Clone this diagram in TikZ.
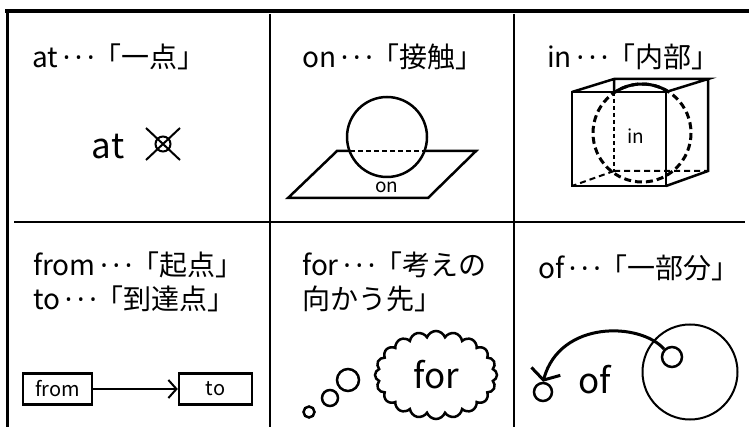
\documentclass[tikz,border=0pt]{standalone}
\usepackage{fontspec}
\setmainfont{Noto Sans CJK JP}
\newfontfamily\latinfont{Noto Sans}
\newcommand\tridots{{\latinfont\,·\,·\,·\,}\kern-0.2em}
\usetikzlibrary{arrows.meta,shapes.symbols}
\tikzset{
  rule/.style={line width=2.5pt},
  title/.style={anchor=west,inner sep=0pt,align=left,font=\fontsize{28}{34}\selectfont},
  bigtext/.style={inner sep=0pt,font=\fontsize{35}{35}\selectfont},
  smalltext/.style={inner sep=0pt,font=\fontsize{19}{19}\selectfont},
  outline/.style={line width=2.5pt},
  bubble/.style={circle,draw,line width=2.5pt,inner sep=0pt},
  wordbox/.style={draw,line width=2.5pt,minimum height=31pt,inner sep=0pt,font=\fontsize{20}{20}\selectfont},
}
\begin{document}
\begin{tikzpicture}[x=1pt,y=-1pt]
\useasboundingbox (0,0) rectangle (749,427);
\fill[white] (0,0) rectangle (749,427);
\draw[rule,line width=3.5pt] (5,11)--(749,11);
\draw[rule,line width=3pt] (7,11)--(7,427);
\draw[rule] (14,222)--(745,222);
\draw[rule] (270,14)--(270,427);
\draw[rule] (514,14)--(514,427);
% at
\node[title] (tat) at (32,57) {at\tridots「一点」};
\node[bigtext] (bat) at (108,147) {at};
\node[circle,draw,line width=2pt,minimum size=15pt,inner sep=0pt] (pt) at (163,144) {};
\draw[line width=2pt] (146,128)--(180,160) (180,128)--(146,160);
% on
\node[title] (ton) at (302,57) {on\tridots「接触」};
\draw[outline] (337,151)--(476,151)--(428,198)--(288,198)--cycle;
\filldraw[outline,fill=white] (387,137) circle (40);
\draw[outline,dash pattern=on 5pt off 3pt] (350,151)--(425,151);
\node[smalltext] (lon) at (387,187) {on};
% in
\node[title] (tin) at (547,57) {in\tridots「内部」};
\draw[outline] (572,92) rectangle (666,186);
\draw[outline] (572,92)--(614,79)--(708,79)--(666,92) (708,79)--(708,171)--(666,186) (614,79)--(614,92);
\draw[line width=2pt,dash pattern=on 6pt off 4pt] (614,171)--(708,171) (614,171)--(572,186);
\draw[line width=2pt,dash pattern=on 4pt off 3pt] (614,92)--(614,171);
\draw[line width=3pt,dash pattern=on 7pt off 4pt] (642,133) circle (49);
\draw[line width=3pt] (642,133) ++(-123:49) arc[start angle=-123,end angle=-59,radius=49];
\node[smalltext] (lin) at (636,136) {in};
% from, to
\node[title] (tfrom) at (33,282) {from\tridots「起点」\\to\tridots「到達点」};
\node[wordbox,minimum width=69pt] (from) at (57.5,389) {from};
\node[wordbox,minimum width=73pt] (to) at (215.5,389) {to};
\draw[line width=2pt,-{Straight Barb[length=8pt,width=18pt]}] (from) -- (to);
% for
\node[title] (tfor) at (302,282) {for\tridots「考えの\\向かう先」};
\node[cloud,cloud puffs=20,cloud puff arc=140,cloud ignores aspect,draw,line width=2.5pt,minimum width=122pt,minimum height=88pt,bigtext] (cloud) at (436,375) {for};
\node[bubble,minimum size=22pt] (b1) at (348,380) {};
\node[bubble,minimum size=16pt] (b2) at (330,398) {};
\node[bubble,minimum size=11pt] (b3) at (309,412) {};
% of
\node[title] (tof) at (538,268) {of\tridots「一部分」};
\node[circle,draw,line width=2pt,minimum size=95pt,inner sep=0pt] (whole) at (690,372) {};
\node[bubble,minimum size=20pt] (part) at (672,357) {};
\node[bubble,minimum size=18pt] (dest) at (543,392) {};
\node[bigtext] (lof) at (595,380) {of};
\draw[line width=3pt,-{Straight Barb[length=9pt,width=30pt]}] (part.135) .. controls (640,322) and (560,320) .. (dest.north);
\end{tikzpicture}
\end{document}
